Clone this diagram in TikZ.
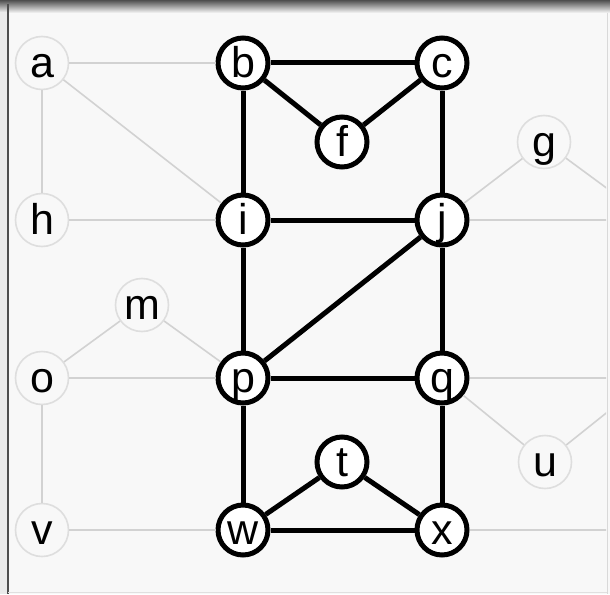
\documentclass[tikz,border=0pt]{standalone}
\usepackage{fontspec}
\setmainfont{Liberation Sans}
\definecolor{gfBg}{HTML}{F8F8F8}
\definecolor{gfFrame}{HTML}{4E4E4E}
\definecolor{gfEdge}{HTML}{D2D2D2}
\definecolor{gfGhost}{HTML}{DEDEDE}
\usetikzlibrary{calc}
\tikzset{
  vtx/.style={circle, draw=black, fill=white, line width=5pt, minimum size=50pt, inner sep=0pt,
    font=\fontsize{43}{43}\selectfont, text height=29pt, text depth=0pt},
  ghost/.style={vtx, draw=gfGhost, line width=1.6pt, fill=none, minimum size=53pt},
  hard/.style={black, line width=5pt},
  soft/.style={gfEdge, line width=1.6pt}
}

\begin{document}
\begin{tikzpicture}[x=1pt,y=-1pt]
  \useasboundingbox (0,0) rectangle (610,594);

  % frame
  \fill[gfBg] (0,0) rectangle (610,594);
  \fill[white!92!black] (0,0) rectangle (8,594);
  \shade[top color=gfFrame, bottom color=gfBg] (0,0) rectangle (610,13);
  \draw[gfFrame, line width=2pt] (8,4) -- (8,594);
  \draw[white!85!black, line width=1pt] (607,13) -- (607,594);
  \draw[white!88!black, line width=1pt] (8,592) -- (607,592);

  % left column (faded)
  \node[ghost] (a) at (42,63) {a};
  \node[ghost] (h) at (42,220) {h};
  \node[ghost] (m) at (142,305) {m};
  \node[ghost] (o) at (42,378) {o};
  \node[ghost] (v) at (42,530) {v};

  % right column (faded)
  \node[ghost] (g) at (544,142) {g};
  \node[ghost] (u) at (545,462) {u};
  \coordinate (r1) at (650,220);
  \coordinate (r2) at (650,378);
  \coordinate (r3) at (650,530);

  % middle
  \node[vtx] (b) at (243,63) {b};
  \node[vtx] (c) at (442,63) {c};
  \node[vtx] (f) at (342,142) {f};
  \node[vtx] (i) at (243,220) {i};
  \node[vtx] (j) at (442,220) {j};
  \node[vtx] (p) at (243,378) {p};
  \node[vtx] (q) at (442,378) {q};
  \node[vtx] (t) at (342,462) {t};
  \node[vtx] (w) at (243,530) {w};
  \node[vtx] (x) at (442,530) {x};

  % faded edges
  \draw[soft] (a) -- (b);
  \draw[soft] (a) -- (h);
  \draw[soft] (a) -- (i);
  \draw[soft] (h) -- (i);
  \draw[soft] (o) -- (m);
  \draw[soft] (m) -- (p);
  \draw[soft] (o) -- (p);
  \draw[soft] (o) -- (v);
  \draw[soft] (v) -- (w);
  \draw[soft] (j) -- (g);
  \draw[soft] (q) -- (u);
  \begin{scope}
    \clip (9,13) rectangle (606,591);
    \draw[soft] (g) -- (r1);
    \draw[soft] (u) -- (r2);
    \draw[soft] (j) -- (r1);
    \draw[soft] (q) -- (r2);
    \draw[soft] (x) -- (r3);
  \end{scope}

  % path edges
  \draw[hard] (b) -- (c);
  \draw[hard] (b) -- (f);
  \draw[hard] (f) -- (c);
  \draw[hard] (b) -- (i);
  \draw[hard] (c) -- (j);
  \draw[hard] (i) -- (j);
  \draw[hard] (i) -- (p);
  \draw[hard] (j) -- (q);
  \draw[hard] (j) -- (p);
  \draw[hard] (p) -- (q);
  \draw[hard] (p) -- (w);
  \draw[hard] (q) -- (x);
  \draw[hard] (w) -- (t);
  \draw[hard] (t) -- (x);
  \draw[hard] (w) -- (x);
\end{tikzpicture}
\end{document}
